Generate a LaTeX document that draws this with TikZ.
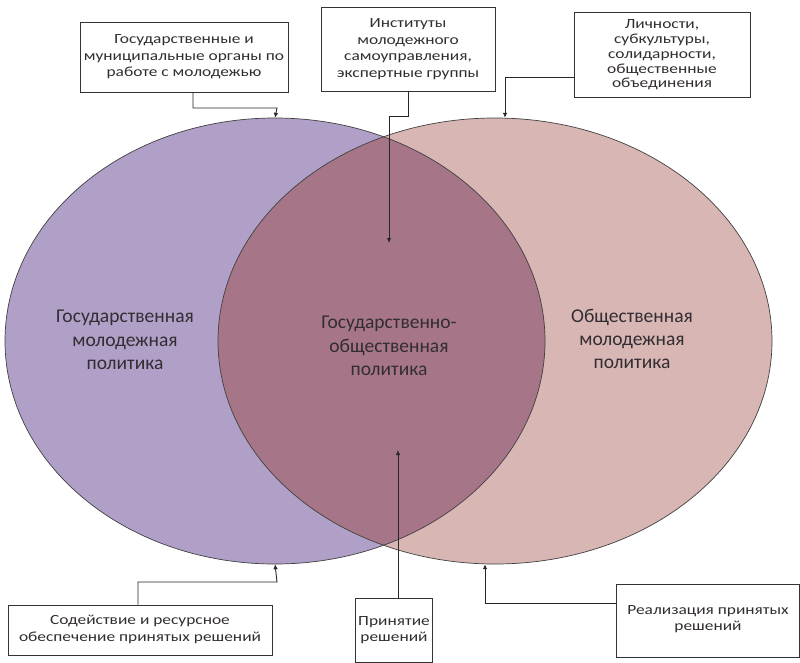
\documentclass[tikz,border=0pt]{standalone}
\usepackage{fontspec}
\setmainfont{Carlito}
\newfontfamily\boxfont[FakeStretch=1.24]{Carlito}
\usepackage{tikz}
\usetikzlibrary{positioning}
\usetikzlibrary{shapes,arrows.meta}
\definecolor{lav}{RGB}{176,160,200}
\definecolor{rosy}{RGB}{216,182,180}
\definecolor{ovl}{RGB}{166,118,136}
\definecolor{txt}{RGB}{50,45,50}

\begin{document}
\begin{tikzpicture}[x=1pt,y=-1pt,
  box/.style={draw=black!80,line width=0.8pt,fill=white,align=center,inner sep=2pt,font=\boxfont\fontsize{14}{16.5}\selectfont,text=txt},
  lab/.style={align=center,font=\fontsize{19.5}{23.3}\selectfont,text=txt},
  conn/.style={draw=black!85,line width=0.9pt,-{Latex[length=5pt,width=4.5pt]}}]
  \useasboundingbox (0,0) rectangle (800,662);
  % circles
  \node(L) [ellipse,minimum width=540,minimum height=446,inner sep=0,fill=lav] at (275,341) {};
  \node(R) [ellipse,minimum width=554,minimum height=446,inner sep=0,fill=rosy] at (495,341) {};
  \begin{scope}
    \clip (275,341) ellipse (270 and 223);
    \fill[ovl] (495,341) ellipse (277 and 223);
  \end{scope}
  \draw[black!75,line width=0.7pt] (275,341) ellipse (270 and 223);
  \draw[black!75,line width=0.7pt] (495,341) ellipse (277 and 223);
  \node(gos) [lab] at (125,340) {Государственная\\молодежная\\политика};
  \node(mid) [lab] at (389,346) {Государственно-\\общественная\\политика};
  \node(obs) [lab] at (632,339) {Общественная\\молодежная\\политика};
  % boxes
  \node(org) [box,minimum width=208,minimum height=70] at (184,57) {Государственные и\\муниципальные органы по\\работе с молодежью};
  \node(inst) [box,minimum width=174,minimum height=84] at (408,49) {Институты\\молодежного\\самоуправления,\\экспертные группы};
  \node(lich) [box,minimum width=176,minimum height=85,font=\boxfont\fontsize{14}{14.7}\selectfont] at (662,55) {Личности,\\субкультуры,\\солидарности,\\общественные\\объединения};
  \node(sod) [box,minimum width=264,minimum height=50,text depth=3pt] at (140,630) {Содействие и ресурсное\\обеспечение принятых решений};
  \node(prin) [box,minimum width=77,minimum height=64] at (394,630) {Принятие\\решений};
  \node(real) [box,minimum width=183,minimum height=73,text depth=6pt] at (708,621) {Реализация принятых\\решений};
  \coordinate(top) at (389,243);
  \coordinate(bot) at (398,450);
  % connectors
  \draw[conn] ([xshift=9pt]org.south) |- (277,108) -- (L.north);
  \draw[conn] (inst.south) |- (389,116) -- (top);
  \draw[conn] (lich.west |- 0,77) -| ([xshift=10pt]R.north);
  \draw[conn] ([xshift=-2pt]sod.north) |- (277,582) -- (L.south);
  \draw[conn] (prin.north -| bot) -- (bot);
  \draw[conn] (real.west |- 0,603) -| ([xshift=-10pt]R.south);
\end{tikzpicture}
\end{document}
